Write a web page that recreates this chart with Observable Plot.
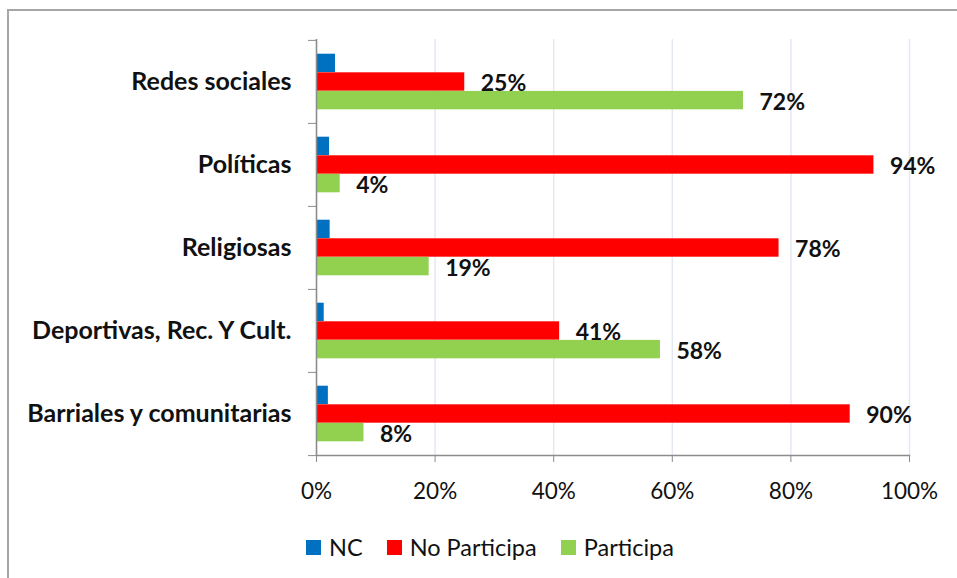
<!DOCTYPE html>
<html>
<head>
<meta charset="utf-8">
<script src="https://cdn.jsdelivr.net/npm/d3@7"></script>
<script src="https://cdn.jsdelivr.net/npm/@observablehq/plot@0.6"></script>
<style>
  html, body { margin: 0; padding: 0; background: #fff; overflow: hidden; }
  #wrap { position: relative; width: 957px; height: 578px; overflow: hidden; font-family: Lato, "Noto Sans", sans-serif; }
  #border { position: absolute; left: 7px; top: 9px; width: 1000px; height: 1000px; border-top: 2px solid #a6a6a6; border-left: 2px solid #a6a6a6; box-sizing: border-box; }
  #chart { position: absolute; left: 0; top: 0; }
  #legend { position: absolute; top: 533px; left: 306px; height: 28px; display: flex; align-items: center; font-size: 23.5px; color: #111; }
  .item { display: flex; align-items: center; margin-right: 24px; }
  .sw { width: 15px; height: 15px; margin-right: 8px; }
</style>
</head>
<body>
<div id="wrap">
  <div id="border"></div>
  <div id="chart"></div>
  <div id="legend"></div>
</div>
<script>
const categories = ["Redes sociales", "Políticas", "Religiosas", "Deportivas, Rec. Y Cult.", "Barriales y comunitarias"];
const series = ["NC", "No Participa", "Participa"];
const colors = ["#0070c0", "#ff0000", "#92d050"];
const nc = [3.2, 2.2, 2.3, 1.3, 2.0];
const noParticipa = [25, 94, 78, 41, 90];
const participa = [72, 4, 19, 58, 8];
const xTicks = [0, 20, 40, 60, 80, 100];

const values = [nc, noParticipa, participa];
const rows = [];
series.forEach((s, si) => categories.forEach((c, ci) => rows.push({category: c, series: s, value: values[si][ci]})));

const barH = 18.6;
const bandH = (455 - 39) / categories.length;
const inset = (bandH - barH) / 2;
const offsets = [-barH, 0, barH];

const marks = [
  Plot.gridX(xTicks, {stroke: "#e4e8f2", strokeOpacity: 1, strokeWidth: 1.5})
];
series.forEach((s, si) => {
  marks.push(Plot.barX(rows.filter(d => d.series === s), {
    x: "value", y: "category", fill: "series",
    insetTop: inset, insetBottom: inset, dy: offsets[si]
  }));
});
series.slice(1).forEach((s, k) => {
  marks.push(Plot.text(rows.filter(d => d.series === s), {
    x: "value", y: "category", text: d => Math.round(d.value) + "%",
    dx: 16, dy: offsets[k + 1] + 2, textAnchor: "start",
    fontWeight: "bold", fontSize: 23, fill: "#111"
  }));
});
marks.push(
  Plot.ruleX([0], {stroke: "#8c8c8c", strokeWidth: 1.5}),
  Plot.frame({anchor: "bottom", stroke: "#8c8c8c", strokeWidth: 1.5}),
  Plot.axisX(xTicks, {tickFormat: d => d + "%", tickSize: 7, tickPadding: 21, fontSize: 22.5, stroke: "#8c8c8c", fill: "#111", label: null}),
  Plot.axisY(categories, {tickSize: 0, tickPadding: 25, fontSize: 25, fontWeight: "bold", fill: "#111", label: null}),
  Plot.axisY(categories, {text: null, tickSize: 8, dy: -bandH / 2, stroke: "#8c8c8c", label: null}),
  Plot.axisY(categories.slice(-1), {text: null, tickSize: 8, dy: bandH / 2, stroke: "#8c8c8c", label: null})
);

const chart = Plot.plot({
  width: 957,
  height: 510,
  marginLeft: 316,
  marginRight: 48,
  marginTop: 39,
  marginBottom: 55,
  style: {fontFamily: "Lato, 'Noto Sans', sans-serif", background: "transparent", overflow: "visible"},
  x: {domain: [0, 100]},
  y: {domain: categories, padding: 0},
  color: {domain: series, range: colors},
  marks
});
document.getElementById("chart").appendChild(chart);

const legend = document.getElementById("legend");
series.forEach((s, i) => {
  const item = document.createElement("div");
  item.className = "item";
  const sw = document.createElement("div");
  sw.className = "sw";
  sw.style.background = colors[i];
  const label = document.createElement("span");
  label.textContent = s;
  item.appendChild(sw);
  item.appendChild(label);
  legend.appendChild(item);
});
</script>
</body>
</html>
